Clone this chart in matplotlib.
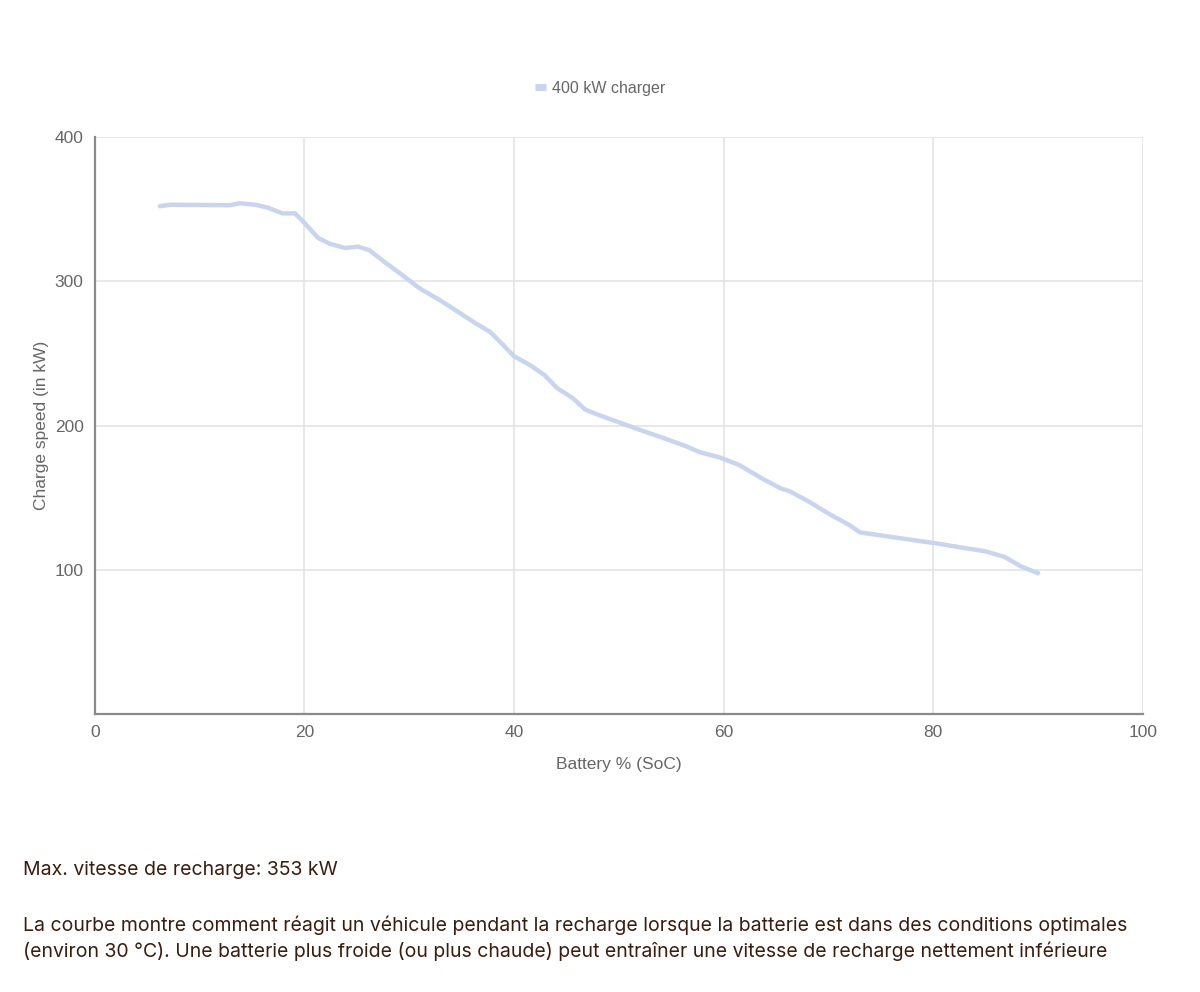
import matplotlib
matplotlib.use('Agg')
import matplotlib.pyplot as plt

# charge curve (SoC %, kW)
soc = [6.2, 7.2, 12.9, 13.8, 15.3, 16.5, 17.9, 19.1, 19.8, 21.3, 22.4, 23.9, 25.1,
       26.2, 27.7, 29.1, 31.0, 32.9, 34.4, 36.3, 37.7, 38.8, 40.0, 41.5, 42.9,
       44.1, 45.6, 46.8, 48.2, 50.1, 52.0, 54.4, 56.3, 57.7, 59.6, 61.5, 63.5,
       65.4, 66.3, 68.2, 70.1, 72.0, 73.0, 74.9, 76.8, 78.7, 80.2, 82.5, 84.9,
       86.8, 88.3, 90.0]
power = [352, 353, 352.7, 354, 353, 351, 347, 347, 342, 330, 326, 323, 324,
         321.5, 313, 305.6, 295, 287, 280, 271, 265, 257, 248, 242, 235,
         226, 219, 211, 207, 202, 197, 191, 186, 181.6, 178, 172.6, 164,
         156.6, 154.5, 147, 138.6, 131, 126, 124, 122, 120, 118.5, 115.7, 113,
         109, 102.6, 97.7]

series_label = '400 kW charger'
xticks = [0, 20, 40, 60, 80, 100]
yticks = [100, 200, 300, 400]
max_text = 'Max. vitesse de recharge: 353 kW'
note_lines = [
    'La courbe montre comment réagit un véhicule pendant la recharge lorsque la batterie est dans des conditions optimales',
    '(environ 30 °C). Une batterie plus froide (ou plus chaude) peut entraîner une vitesse de recharge nettement inférieure',
]

line_col = '#c7d6ee'
axis_gray = '#666666'
text_brown = '#3b1d0e'

fig = plt.figure(figsize=(12, 9.92), dpi=100)
ax = fig.add_axes([0.079, 0.28, 0.8735, 0.582])

ax.plot(soc, power, color=line_col, lw=3.2, solid_capstyle='round',
        solid_joinstyle='round', label=series_label)

ax.set_xlim(0, 100)
ax.set_ylim(0, 400)
ax.set_xticks(xticks)
ax.set_yticks(yticks)
ax.grid(True, color='#e4e4e4', lw=1.2)
ax.set_axisbelow(True)
for s in ['top', 'right']:
    ax.spines[s].set_visible(False)
for s in ['left', 'bottom']:
    ax.spines[s].set_color('#8a8a8a')
    ax.spines[s].set_linewidth(1.6)
ax.tick_params(length=0, pad=8, labelsize=12.5, labelcolor=axis_gray)
for t in ax.get_xticklabels() + ax.get_yticklabels():
    t.set_family('Liberation Sans')

ax.set_xlabel('Battery % (SoC)', fontsize=12.5, color=axis_gray, family='Liberation Sans', labelpad=12)
ax.set_ylabel('Charge speed (in kW)', fontsize=12.5, color=axis_gray, family='Liberation Sans', labelpad=4)

leg = fig.legend(loc='center', bbox_to_anchor=(0.5, 0.911), frameon=False,
                 handlelength=0.7, handletextpad=0.4,
                 prop={'family': 'Liberation Sans', 'size': 11.5})
for t in leg.get_texts():
    t.set_color(axis_gray)
for h in leg.get_lines():
    h.set_linewidth(5)
    h.set_solid_capstyle('butt')

fig.text(0.019, 0.123, max_text, fontsize=14, color=text_brown, family='Inter', va='center')
fig.text(0.019, 0.0675, note_lines[0], fontsize=14, color=text_brown, family='Inter', va='center')
fig.text(0.019, 0.0415, note_lines[1], fontsize=14, color=text_brown, family='Inter', va='center')

fig.savefig('out.png', dpi=100, facecolor='white')
